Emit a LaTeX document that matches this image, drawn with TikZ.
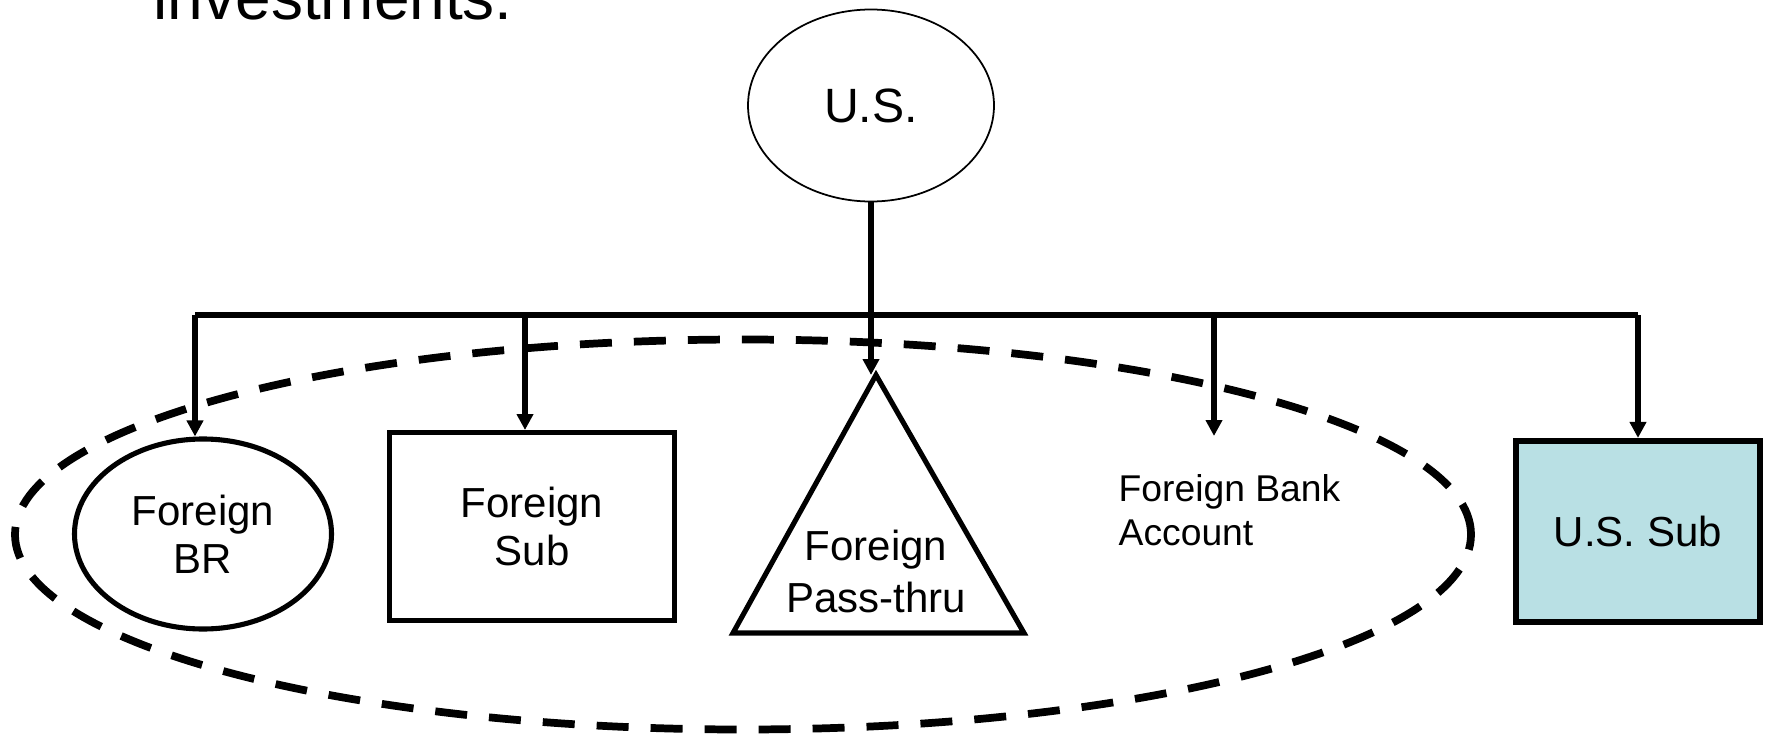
\documentclass[tikz,border=0pt]{standalone}
\usepackage{fontspec}
\setmainfont{Liberation Sans}
\usepackage{xcolor}
\usepackage{tikz}
\usetikzlibrary{positioning, arrows.meta, shapes.geometric}

\definecolor{subblue}{RGB}{185,224,228}

\begin{document}
\begin{tikzpicture}[
    >={Triangle[width=0.16cm, length=0.16cm]},
    link/.style={line width=1.45pt, ->},
    every node/.style={align=center, inner sep=0pt, font=\fontsize{11.95}{13.7}\selectfont}
]
\useasboundingbox (0,0) rectangle (17.66,-7.39);

% Title (cut off at the top)
\node (title) [anchor=base west, font=\fontsize{18.2}{21}\selectfont] at (1.53,-0.19) {investments:};

% Nodes
\node (us) [ellipse, draw, line width=0.5pt, minimum width=2.46cm, minimum height=1.92cm,
    font=\fontsize{13.7}{15}\selectfont] at (8.71,-1.055) {U.S.};
\node (br) [ellipse, draw, line width=1.45pt, minimum width=2.57cm, minimum height=1.90cm] at (2.03,-5.34) {Foreign\\BR};
\node (sub) [rectangle, draw, line width=1.45pt, minimum width=2.85cm, minimum height=1.88cm] at (5.32,-5.265) {Foreign\\Sub};
\node (pass) [font=\fontsize{11.95}{14.8}\selectfont] at (8.76,-5.71) {Foreign\\Pass-thru};
\node (bank) [anchor=west, align=left, font=\fontsize{10.6}{12.5}\selectfont] at (11.18,-5.10) {Foreign Bank\\Account};
\node (ussub) [rectangle, draw, line width=1.75pt, fill=subblue, minimum width=2.44cm, minimum height=1.81cm] at (16.38,-5.315) {U.S. Sub};

% Pass-thru triangle
\coordinate (passtop) at (8.76,-3.75);
\coordinate (passleft) at (7.33,-6.33);
\coordinate (passright) at (10.24,-6.33);
\draw[line width=1.45pt] (passleft) -- (passtop) -- (passright) -- cycle;

% Dashed group round the foreign entities
\draw[line width=2.2pt, dash pattern=on 0.32cm off 0.22cm] (7.43,-5.345) ellipse [x radius=7.28, y radius=1.95];

% Bus line
\coordinate (busL) at (1.95,-3.15);
\coordinate (busR) at (16.38,-3.15);
\coordinate (bankin) at (12.14,-4.36);
\draw[line width=1.45pt] (busL) -- (busR);

% Arrows
\draw[link] (us.south) -- (us.south |- passtop);
\draw[link] (busL) -- (busL |- br.north);
\draw[link] (5.25,-3.15) -- (5.25,-4.30);
\draw[link] (bankin |- busL) -- (bankin);
\draw[link] (busR) -- (ussub.north);

\end{tikzpicture}
\end{document}
